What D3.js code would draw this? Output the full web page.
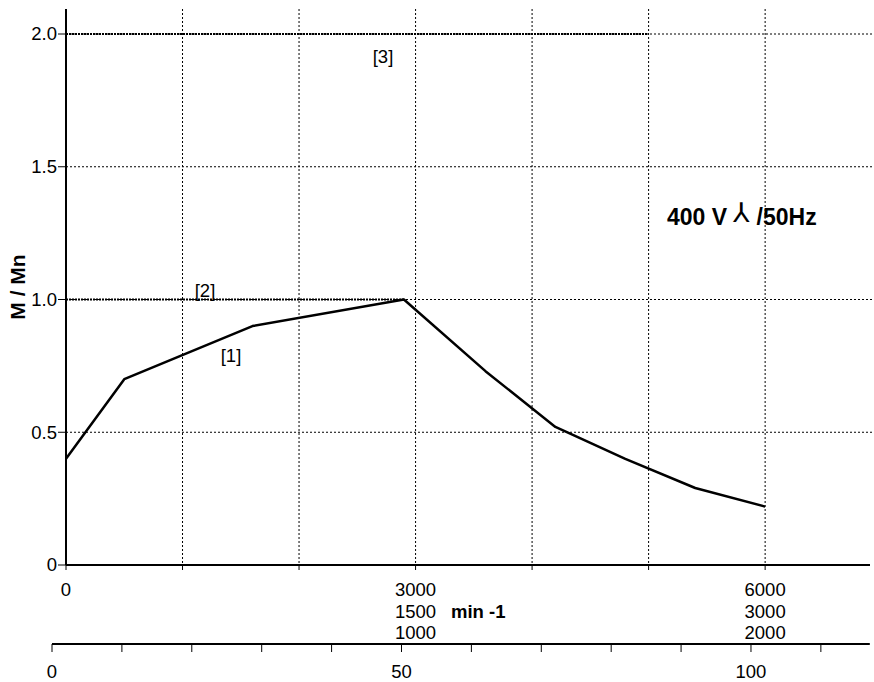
<!DOCTYPE html>
<html><head><meta charset="utf-8">
<script src="https://cdn.jsdelivr.net/npm/d3@7"></script>
<style>
body{margin:0;background:#fff;}
text{font-family:"Liberation Sans",Arial,sans-serif;}
</style></head>
<body><svg id="c" width="874" height="682"></svg>
<script>
// data
const speedRpm = [0, 500, 1600, 2900, 3600, 4200, 4800, 5400, 6000];
const torqueRatio = [0.40, 0.70, 0.90, 1.00, 0.73, 0.52, 0.40, 0.29, 0.22];
const yTicks = [0, 0.5, 1.0, 1.5, 2.0];
const yTickLabels = ["0", "0.5", "1.0", "1.5", "2.0"];
const xGrid = [1000, 2000, 3000, 4000, 5000, 6000];
const xLabelRows = [["0", "3000", "6000"], ["", "1500", "3000"], ["", "1000", "2000"]];
const xLabelPos = [0, 3000, 6000];
const freqTicks = [0, 10, 20, 30, 40, 50, 60, 70, 80, 90, 100, 110];
const freqLabels = [0, 50, 100];
const limitLines = [{label: "[2]", value: 1.0, end: 2900}, {label: "[3]", value: 2.0, end: 5000}];

const svg = d3.select("#c");
const x = d3.scaleLinear().domain([0, 6900]).range([66, 870]);
const y = d3.scaleLinear().domain([0, 2]).range([565, 34]);
const f = d3.scaleLinear().domain([0, 117]).range([52, 869.8]);
const yTop = 9;
const fs = 18.5;

// grid
svg.append("g").selectAll("line").data(yTicks.slice(1)).join("line")
  .attr("x1", x(0)).attr("x2", 874).attr("y1", d => y(d)).attr("y2", d => y(d))
  .attr("stroke", "#000").attr("stroke-width", 1).attr("stroke-dasharray", "2,2");
svg.append("g").selectAll("line").data(xGrid).join("line")
  .attr("x1", d => x(d)).attr("x2", d => x(d)).attr("y1", yTop).attr("y2", y(0))
  .attr("stroke", "#000").attr("stroke-width", 1).attr("stroke-dasharray", "2,2");

// limit lines
svg.append("g").selectAll("line").data(limitLines).join("line")
  .attr("x1", x(0)).attr("x2", d => x(d.end)).attr("y1", d => y(d.value)).attr("y2", d => y(d.value))
  .attr("stroke", "#000").attr("stroke-width", 2.2).attr("stroke-dasharray", "2,1");

// axes
svg.append("line").attr("x1", x(0)).attr("x2", x(0)).attr("y1", yTop).attr("y2", y(0))
  .attr("stroke", "#000").attr("stroke-width", 2);
svg.append("line").attr("x1", x(0)).attr("x2", 870).attr("y1", y(0)).attr("y2", y(0))
  .attr("stroke", "#000").attr("stroke-width", 2);
svg.append("g").selectAll("line").data(yTicks).join("line")
  .attr("x1", x(0) - 8).attr("x2", x(0)).attr("y1", d => y(d)).attr("y2", d => y(d))
  .attr("stroke", "#000").attr("stroke-width", 1);
svg.append("g").selectAll("line").data([0].concat(xGrid)).join("line")
  .attr("x1", d => x(d)).attr("x2", d => x(d)).attr("y1", y(0)).attr("y2", y(0) + 5)
  .attr("stroke", "#000").attr("stroke-width", 1);
svg.append("g").selectAll("text").data(yTicks).join("text")
  .attr("x", x(0) - 9).attr("y", d => y(d)).attr("dy", "0.35em")
  .attr("text-anchor", "end").attr("font-size", fs).text((d, i) => yTickLabels[i]);

// curve
svg.append("path")
  .datum(speedRpm.map((s, i) => [s, torqueRatio[i]]))
  .attr("d", d3.line().x(d => x(d[0])).y(d => y(d[1])))
  .attr("fill", "none").attr("stroke", "#000").attr("stroke-width", 2.5).attr("stroke-linejoin", "round");

// x labels
xLabelRows.forEach((row, r) => {
  row.forEach((t, i) => {
    if (!t) return;
    svg.append("text").attr("x", x(xLabelPos[i])).attr("y", 590 + r * 21.5).attr("dy", "0.35em")
      .attr("text-anchor", "middle").attr("font-size", fs).text(t);
  });
});
svg.append("text").attr("x", 451).attr("y", 612).attr("dy", "0.35em")
  .attr("font-size", fs).attr("font-weight", "bold").text("min -1");

// second axis
svg.append("line").attr("x1", f(0)).attr("x2", f(117)).attr("y1", 644).attr("y2", 644)
  .attr("stroke", "#000").attr("stroke-width", 2);
svg.append("g").selectAll("line").data(freqTicks).join("line")
  .attr("x1", d => f(d)).attr("x2", d => f(d)).attr("y1", 644).attr("y2", 652)
  .attr("stroke", "#000").attr("stroke-width", 1);
svg.append("g").selectAll("text").data(freqLabels).join("text")
  .attr("x", d => f(d)).attr("y", 672).attr("dy", "0.35em")
  .attr("text-anchor", "middle").attr("font-size", fs).text(d => d);

// titles and annotations
svg.append("text").attr("transform", "translate(24.5,287) rotate(-90)")
  .attr("text-anchor", "middle").attr("font-size", 21).attr("font-weight", "bold").text("M / Mn");
svg.append("text").attr("x", 383).attr("y", 57).attr("dy", "0.35em").attr("text-anchor", "middle")
  .attr("font-size", fs).text("[3]");
svg.append("text").attr("x", 205).attr("y", 291).attr("dy", "0.35em").attr("text-anchor", "middle")
  .attr("font-size", fs).text("[2]");
svg.append("text").attr("x", 231).attr("y", 356).attr("dy", "0.35em").attr("text-anchor", "middle")
  .attr("font-size", fs).text("[1]");
const vt = svg.append("text").attr("x", 667).attr("y", 225)
  .attr("font-size", 23).attr("font-weight", "bold");
vt.append("tspan").text("400 V");
vt.append("tspan").attr("font-weight", "normal").attr("font-family", "DejaVu Sans").attr("font-size", 27)
  .attr("dx", 6).attr("dy", -3).text("⅄");
vt.append("tspan").attr("dx", 7).attr("dy", 3).text("/50Hz");
</script></body></html>
